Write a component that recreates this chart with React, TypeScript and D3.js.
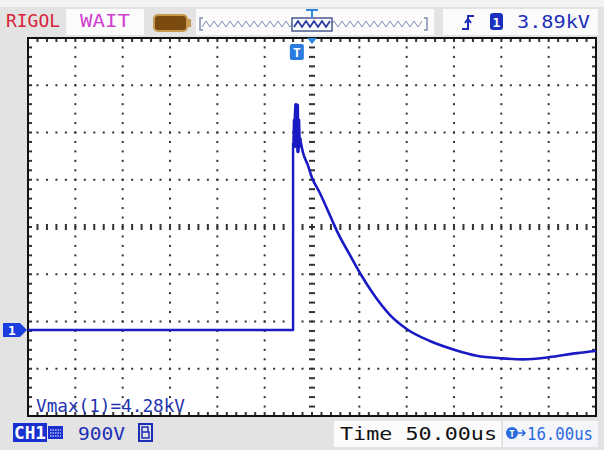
import React, { useEffect, useRef } from "react";
import * as d3 from "d3";

// scope settings
const timePerDiv = 50; // us
const triggerOffset = 16; // us
const voltsPerDiv = 0.9; // kV
const groundDiv = 1.82; // ground marker, divisions above bottom edge

// captured trace: time (us), voltage (kV); first part is baseline, edge and the noisy peak
const edgeTime = [-284, -4, -4, -3, -2.5, -2, -1.5, -1, -0.5, 0, 0.5, 1.2, 1.8, 2.5, 3.2];
const edgeVolt = [0, 0, 3.56, 3.6, 4.0, 3.5, 4.1, 4.29, 3.6, 4.2, 4.28, 3.4, 4.0, 3.5, 3.66];
// then the decay
const decayTime = [
  3.2, 6.3, 11.6, 15.8, 24.3, 37, 43.3, 56, 66.5, 80.3, 98.2, 116, 140.5, 167, 190, 216.6, 239, 266,
  296, 316,
];
const decayVolt = [
  3.66, 3.39, 3.14, 2.91, 2.61, 2.1, 1.85, 1.43, 1.09, 0.7, 0.29, 0.02, -0.21, -0.38, -0.49, -0.54,
  -0.56, -0.52, -0.44, -0.4,
];

const headerTexts = ["RIGOL", "WAIT", "3.89kV"];
const footerTexts = ["900V", "Time 50.00us", "16.00us"];
const measureText = "Vmax(1)=4.28kV";

const W = 604;
const H = 450;
const left = 28;
const right = 596;
const top = 38;
const bottom = 416;
const font = "'DejaVu Sans Mono', monospace";
const blue = "#1c2db8";

const App = () => {
  const svgRef = useRef<SVGSVGElement>(null);

  useEffect(() => {
    const svg = d3.select(svgRef.current);
    svg.selectAll("*").remove();

    // screen background
    svg.append("rect").attr("width", W).attr("height", H).attr("fill", "#e3e3e3");
    svg.append("rect").attr("width", W).attr("height", 7).attr("fill", "#f2f2f2");
    svg.append("rect").attr("x", left).attr("y", top).attr("width", right - left).attr("height", bottom - top).attr("fill", "#ffffff");

    const gx = d3.scaleLinear().domain([0, 12]).range([left, right]);
    const gy = d3.scaleLinear().domain([0, 8]).range([top, bottom]);
    const grid = svg.append("g").attr("fill", "#333");

    // dotted divisions
    const minorX = d3.range(0, 61).map((d) => d / 5);
    const minorY = d3.range(0, 41).map((d) => d / 5);
    [1, 2, 3, 4, 5, 7, 8, 9, 10, 11].forEach((i) => {
      minorY.forEach((j) => grid.append("rect").attr("x", gx(i) - 1).attr("y", gy(j) - 1).attr("width", 2).attr("height", 2));
    });
    [1, 2, 3, 5, 6, 7].forEach((j) => {
      minorX.forEach((i) => grid.append("rect").attr("x", gx(i) - 1).attr("y", gy(j) - 1).attr("width", 2).attr("height", 2));
    });
    // centre axes with ticks
    minorX.forEach((i) => grid.append("rect").attr("x", gx(i) - 1).attr("y", gy(4) - 3).attr("width", 2).attr("height", 6));
    minorY.forEach((j) => grid.append("rect").attr("x", gx(6) - 3).attr("y", gy(j) - 1).attr("width", 6).attr("height", 2));
    // border ticks
    minorX.forEach((i) => {
      grid.append("rect").attr("x", gx(i) - 1).attr("y", top).attr("width", 2).attr("height", 4);
      grid.append("rect").attr("x", gx(i) - 1).attr("y", bottom - 4).attr("width", 2).attr("height", 4);
    });
    minorY.forEach((j) => {
      grid.append("rect").attr("x", left).attr("y", gy(j) - 1).attr("width", 4).attr("height", 2);
      grid.append("rect").attr("x", right - 4).attr("y", gy(j) - 1).attr("width", 4).attr("height", 2);
    });
    svg.append("rect").attr("x", left).attr("y", top).attr("width", right - left).attr("height", bottom - top)
      .attr("fill", "none").attr("stroke", "#111").attr("stroke-width", 2);

    // trace
    const xScale = d3.scaleLinear()
      .domain([triggerOffset - 6 * timePerDiv, triggerOffset + 6 * timePerDiv])
      .range([left, right]);
    const yScale = d3.scaleLinear()
      .domain([-groundDiv * voltsPerDiv, (8 - groundDiv) * voltsPerDiv])
      .range([bottom, top]);
    const edgePts = edgeTime.map((t, i) => [t, edgeVolt[i]] as [number, number]);
    const decayPts = decayTime.map((t, i) => [t, decayVolt[i]] as [number, number]);
    const line = d3.line<[number, number]>().x((d) => xScale(d[0])).y((d) => yScale(d[1]));
    const traceColor = "#1a1ac4";
    svg.append("path").attr("d", line(edgePts)).attr("fill", "none").attr("stroke", traceColor)
      .attr("stroke-width", 2.4).attr("stroke-linejoin", "round");
    // thick noisy peak
    svg.append("path").attr("d", line(edgePts.slice(3))).attr("fill", "none").attr("stroke", traceColor)
      .attr("stroke-width", 3.5).attr("stroke-linejoin", "round");
    svg.append("path").attr("d", line.curve(d3.curveMonotoneX)(decayPts)).attr("fill", "none").attr("stroke", traceColor)
      .attr("stroke-width", 2.6).attr("stroke-linejoin", "round");

    // ground marker "1"
    const gY = yScale(0);
    svg.append("path")
      .attr("d", `M3,${gY - 7} H20 L27,${gY} L20,${gY + 7} H3 Z`)
      .attr("fill", "#1c3ee0");
    svg.append("text").attr("x", 12).attr("y", gY + 5).attr("text-anchor", "middle").attr("fill", "#fff")
      .attr("font-family", font).attr("font-size", 13).attr("font-weight", "bold").text("1");

    // trigger position markers
    const tX = xScale(0);
    svg.append("path").attr("d", `M${gx(6) - 5},${top} H${gx(6) + 5} L${gx(6)},${top + 6} Z`).attr("fill", "#2a8ae0");
    svg.append("rect").attr("x", tX - 7).attr("y", 44).attr("width", 14).attr("height", 16).attr("rx", 2).attr("fill", "#2a7ae0");
    svg.append("text").attr("x", tX).attr("y", 57).attr("text-anchor", "middle").attr("fill", "#fff")
      .attr("font-family", font).attr("font-size", 13).attr("font-weight", "bold").text("T");

    // measurement
    svg.append("text").attr("x", 36).attr("y", 412).attr("fill", "#2233b0").attr("font-family", font)
      .attr("font-size", 17).attr("textLength", 149).attr("lengthAdjust", "spacingAndGlyphs").text(measureText);

    // ---- header ----
    svg.append("text").attr("x", 6).attr("y", 27).attr("fill", "#d8243a").attr("font-family", font)
      .attr("font-size", 18).attr("textLength", 54).attr("lengthAdjust", "spacingAndGlyphs").text(headerTexts[0]);
    svg.append("rect").attr("x", 66).attr("y", 9).attr("width", 78).attr("height", 26).attr("fill", "#fbfbfb");
    svg.append("text").attr("x", 80).attr("y", 27).attr("fill", "#d040d0").attr("font-family", font)
      .attr("font-size", 18).attr("textLength", 50).attr("lengthAdjust", "spacingAndGlyphs").text(headerTexts[1]);
    // battery-like memory icon
    svg.append("rect").attr("x", 154).attr("y", 15).attr("width", 33).attr("height", 16).attr("rx", 4)
      .attr("fill", "#7a4a10").attr("stroke", "#c89a50").attr("stroke-width", 2);
    svg.append("rect").attr("x", 187).attr("y", 19).attr("width", 4).attr("height", 8).attr("fill", "#c89a50");
    // memory bar
    svg.append("rect").attr("x", 196).attr("y", 9).attr("width", 238).attr("height", 26).attr("fill", "#fbfbfb");
    const zig = d3.range(0, 56).map((i) => [202 + i * 4, i % 2 ? 21 : 27] as [number, number]);
    svg.append("path").attr("d", d3.line()(zig)).attr("fill", "none").attr("stroke", "#8090b0").attr("stroke-width", 1);
    svg.append("path").attr("d", "M203,18 H200 V30 H203 M424,18 H427 V30 H424").attr("fill", "none").attr("stroke", "#8090b0").attr("stroke-width", 1.5);
    svg.append("rect").attr("x", 292).attr("y", 18).attr("width", 40).attr("height", 13).attr("fill", "#fbfbfb")
      .attr("stroke", "#4a5a90").attr("stroke-width", 1.5);
    const zig2 = d3.range(0, 10).map((i) => [294 + i * 4, i % 2 ? 21 : 27] as [number, number]);
    svg.append("path").attr("d", d3.line()(zig2)).attr("fill", "none").attr("stroke", "#2a3aa0").attr("stroke-width", 1.8);
    svg.append("path").attr("d", "M306,10 H318 M312,10 V18").attr("stroke", "#2a8ae0").attr("stroke-width", 2);
    // trigger status box
    svg.append("rect").attr("x", 443).attr("y", 9).attr("width", 155).attr("height", 26).attr("fill", "#fbfbfb");
    svg.append("path").attr("d", "M462,29 H468 V16 H474 M465,23 L468,19 L471,23").attr("fill", "none")
      .attr("stroke", blue).attr("stroke-width", 2);
    svg.append("rect").attr("x", 490).attr("y", 13).attr("width", 13).attr("height", 17).attr("rx", 3).attr("fill", "#1a2fc0");
    svg.append("text").attr("x", 496.5).attr("y", 27).attr("text-anchor", "middle").attr("fill", "#fff")
      .attr("font-family", font).attr("font-size", 13).attr("font-weight", "bold").text("1");
    svg.append("text").attr("x", 517).attr("y", 28).attr("fill", blue).attr("font-family", font)
      .attr("font-size", 18).attr("textLength", 73).attr("lengthAdjust", "spacingAndGlyphs").text(headerTexts[2]);

    // ---- footer ----
    svg.append("rect").attr("x", 13).attr("y", 423).attr("width", 34).attr("height", 19).attr("fill", "#1a2fd0");
    svg.append("text").attr("x", 14).attr("y", 439).attr("fill", "#fff").attr("font-family", font)
      .attr("font-size", 17).attr("font-weight", "bold").attr("textLength", 32).attr("lengthAdjust", "spacingAndGlyphs").text("CH1");
    svg.append("rect").attr("x", 48).attr("y", 426).attr("width", 15).attr("height", 13).attr("fill", "#1a2fd0");
    svg.append("path").attr("d", "M50,430 H61 M50,433 H61 M50,436 H61").attr("stroke", "#fff").attr("stroke-width", 1).attr("stroke-dasharray", "1.5,1");
    svg.append("text").attr("x", 78).attr("y", 440).attr("fill", blue).attr("font-family", font)
      .attr("font-size", 18).attr("textLength", 47).attr("lengthAdjust", "spacingAndGlyphs").text(footerTexts[0]);
    svg.append("rect").attr("x", 139).attr("y", 424).attr("width", 13).attr("height", 17).attr("fill", "none")
      .attr("stroke", blue).attr("stroke-width", 2);
    svg.append("path").attr("d", "M142,427 H148 V432 H142 Z M142,432 H149 V438 H142 Z").attr("fill", "none").attr("stroke", blue).attr("stroke-width", 1.5);

    svg.append("rect").attr("x", 334).attr("y", 421).attr("width", 167).attr("height", 26).attr("fill", "#fbfbfb");
    svg.append("text").attr("x", 340).attr("y", 440).attr("fill", "#111").attr("font-family", font)
      .attr("font-size", 18).attr("textLength", 157).attr("lengthAdjust", "spacingAndGlyphs").text(footerTexts[1]);
    svg.append("rect").attr("x", 503).attr("y", 421).attr("width", 95).attr("height", 26).attr("fill", "#f4f6fa");
    svg.append("circle").attr("cx", 512).attr("cy", 433).attr("r", 6).attr("fill", "#2a6ae0");
    svg.append("text").attr("x", 512).attr("y", 437).attr("text-anchor", "middle").attr("fill", "#fff")
      .attr("font-family", font).attr("font-size", 9).attr("font-weight", "bold").text("T");
    svg.append("path").attr("d", "M518,433 H525 M522,430 L525,433 L522,436").attr("fill", "none").attr("stroke", "#2a6ae0").attr("stroke-width", 1.5);
    svg.append("text").attr("x", 527).attr("y", 440).attr("fill", "#2a6ae0").attr("font-family", font)
      .attr("font-size", 18).attr("textLength", 66).attr("lengthAdjust", "spacingAndGlyphs").text(footerTexts[2]);
  }, []);

  return (
    <svg ref={svgRef} width={W} height={H} style={{ position: "absolute", left: 0, top: 0, display: "block" }}></svg>
  );
};

export default App;
